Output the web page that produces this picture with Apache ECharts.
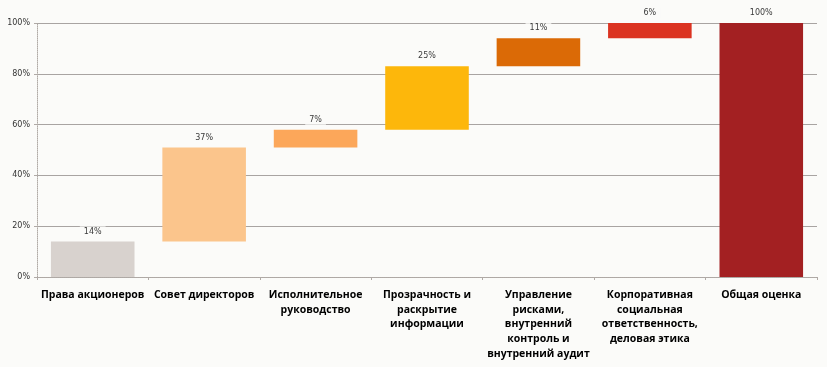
<!DOCTYPE html>
<html><head><meta charset="utf-8">
<script src="https://cdn.jsdelivr.net/npm/echarts@6/dist/echarts.min.js"></script>
<style>html,body{margin:0;padding:0;background:#fbfbf9}#c{width:827px;height:367px}</style>
</head><body><div id="c"></div>
<script>
const categories = ['Права акционеров','Совет директоров','Исполнительное\nруководство','Прозрачность и\nраскрытие\nинформации','Управление\nрисками,\nвнутренний\nконтроль и\nвнутренний аудит','Корпоративная\nсоциальная\nответственность,\nделовая этика','Общая оценка'];
const values = [14, 37, 7, 25, 11, 6, 100];
const bases = [0, 14, 51, 58, 83, 94, 0];
const colors = ['#d8d2ce','#fbc58c','#fca75a','#fdb70b','#db6a06','#db3321','#a32022'];
const yTicks = [0, 20, 40, 60, 80, 100];

const chart = echarts.init(document.getElementById('c'));
chart.setOption({
  backgroundColor: '#fbfbf9',
  animation: false,
  grid: {left: 37, right: 10, top: 23, bottom: 90},
  xAxis: {
    type: 'category', data: categories,
    axisLine: {lineStyle: {color: '#b0aaa6', type: 'dotted'}},
    axisTick: {show: true, alignWithLabel: false, length: 3, lineStyle: {color: '#b0aaa6'}},
    axisLabel: {interval: 0, color: '#000', fontFamily: 'Open Sans', fontWeight: 'bold', fontSize: 10.5, lineHeight: 14.6, margin: 11}
  },
  yAxis: {
    type: 'value', min: 0, max: 100, interval: 20,
    axisLine: {show: true, lineStyle: {color: '#b0aaa6', type: 'dotted'}},
    axisTick: {show: true, length: 3, lineStyle: {color: '#b0aaa6'}},
    splitLine: {lineStyle: {color: '#a8a4a2', width: 1}},
    axisLabel: {color: '#333', fontSize: 8, fontFamily: 'DejaVu Sans', margin: 7, formatter: v => yTicks.includes(v) ? v + '%' : ''}
  },
  series: [
    {type: 'bar', stack: 'w', data: bases, itemStyle: {color: 'transparent'}, barCategoryGap: '25%', silent: true},
    {type: 'bar', stack: 'w', data: values.map((v, i) => ({value: v, itemStyle: {color: colors[i]}})),
     barCategoryGap: '25%',
     label: {show: true, position: 'top', distance: 5, formatter: p => p.value + '%', color: '#3a3a3a', fontSize: 8, fontFamily: 'DejaVu Sans',
       backgroundColor: '#fbfbf9', padding: [1, 4]}}
  ]
});
</script></body></html>
